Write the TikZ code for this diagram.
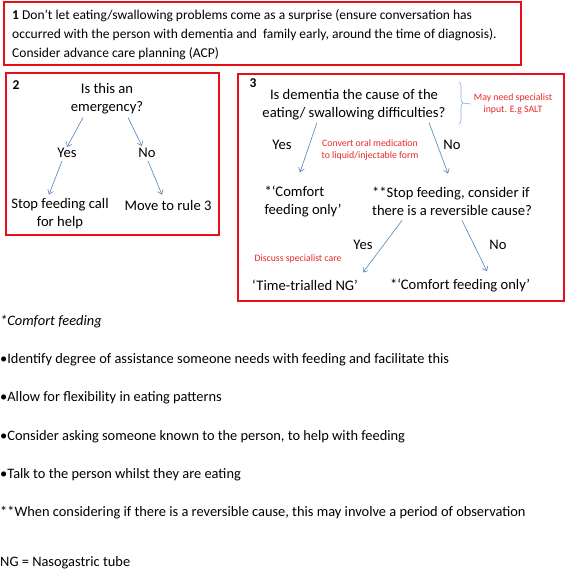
\documentclass[tikz,border=0pt]{standalone}
\usepackage{fontspec}
\setmainfont{Carlito}
\usetikzlibrary{arrows.meta, positioning, decorations.pathreplacing}
\definecolor{framered}{RGB}{232,16,24}
\definecolor{notered}{RGB}{232,40,40}
\definecolor{flowblue}{RGB}{79,129,189}
\definecolor{braceblue}{RGB}{140,170,210}

\begin{document}
\begin{tikzpicture}[
    x=1pt, y=-1pt,
    frame/.style={
        draw=framered,
        line width=2pt
    },
    txt/.style={
        inner sep=0pt,
        align=center,
        font=\fontsize{14.6}{18}\selectfont
    },
    body/.style={
        inner sep=0pt,
        anchor=west,
        font=\fontsize{14.4}{18}\selectfont
    },
    note/.style={
        inner sep=0pt,
        align=center,
        text=notered,
        font=\fontsize{9.8}{11.5}\selectfont
    },
    num/.style={
        inner sep=0pt,
        font=\fontsize{13.5}{15}\selectfont\bfseries
    },
    flow/.style={
        draw=flowblue,
        line width=0.6pt,
        -{Straight Barb[length=4pt, width=6pt]}
    }
]
\useasboundingbox (0,0) rectangle (567,571);

% Rule 1
\draw[frame] (4,2) rectangle (521,65);
\node[txt, anchor=north west, align=left, font=\fontsize{13.5}{19}\selectfont] (r1) at (12,9) {%
\textbf{1} Don’t let eating/swallowing problems come as a surprise (ensure conversation has\\
occurred with the person with dementia and\ \ family early, around the time of diagnosis).\\
Consider advance care planning (ACP)};

% Rule 2
\draw[frame] (6,73) rectangle (219,235);
\node[num] (n2) at (16,85) {2};
\node[txt] (q2) at (107,99) {Is this an\\emergency?};
\node[txt] (yes2) at (67,153) {Yes};
\node[txt] (no2) at (147,153) {No};
\node[txt] (stop2) at (60,214) {Stop feeding call\\for help};
\node[txt] (move2) at (168,205) {Move to rule 3};

\draw[flow] ([xshift=-24pt, yshift=-3pt]q2.south) -- ([yshift=1pt]yes2.north);
\draw[flow] ([xshift=21pt, yshift=-3pt]q2.south) -- ([xshift=-5pt, yshift=2pt]no2.north);
\draw[flow] ([xshift=-5pt, yshift=-3pt]yes2.south) -- ([xshift=-11pt, yshift=4pt]stop2.north);
\draw[flow] ([xshift=1pt, yshift=-3pt]no2.south) -- ([xshift=-6pt, yshift=5pt]move2.north);

% Rule 3
\draw[frame] (238,74) rectangle (564,301);
\node[num] (n3) at (253,83) {3};
\node[txt] (q3) at (354,105) {Is dementia the cause of the\\eating/ swallowing difficulties?};
\draw[draw=braceblue, line width=0.6pt, decorate, decoration={brace, amplitude=4pt}]
    (459,82) -- (459,124) coordinate[midway, xshift=4pt] (tip);
\node[note] (spec) at (513,104) {May need specialist\\input. E.g SALT};
\draw[draw=braceblue, line width=0.6pt] (tip) -- ([xshift=-3pt]spec.west);

\node[txt] (yes3) at (282,145) {Yes};
\node[txt] (no3) at (452,145) {No};
\node[note] (conv) at (370,150) {Convert oral medication\\to liquid/injectable form};
\node[txt, align=left] (comf3) at (303,201) {*‘Comfort\\feeding only’};
\node[txt, align=left] (stop3) at (452,201) {**Stop feeding, consider if\\there is a reversible cause?};

\draw[flow] ([xshift=-37pt, yshift=-2pt]q3.south) -- ([xshift=-3pt, yshift=13pt]comf3.north);
\draw[flow] ([xshift=75pt, yshift=-2pt]q3.south) -- ([xshift=-4pt, yshift=13pt]stop3.north);

\node[txt] (yes4) at (363,245) {Yes};
\node[txt] (no4) at (498,245) {No};
\node[note] (disc) at (298,259) {Discuss specialist care};
\node[txt] (ng) at (305,285) {‘Time-trialled NG’};
\node[txt] (comf4) at (460,285) {*‘Comfort feeding only’};

\draw[flow] ([xshift=-50pt, yshift=-5pt]stop3.south) -- ([xshift=58pt, yshift=7pt]ng.north);
\draw[flow] ([xshift=10pt, yshift=-5pt]stop3.south) -- ([xshift=27pt, yshift=7pt]comf4.north);

% Notes
\node[body] (cf) at (0,322) {\itshape *Comfort feeding};
\node[body] (b1) at (0,360) {•Identify degree of assistance someone needs with feeding and facilitate this};
\node[body] (b2) at (0,398) {•Allow for flexibility in eating patterns};
\node[body] (b3) at (0,437) {•Consider asking someone known to the person, to help with feeding};
\node[body] (b4) at (0,475) {•Talk to the person whilst they are eating};
\node[body] (obs) at (0,513) {**When considering if there is a reversible cause, this may involve a period of observation};
\node[body] (ng2) at (0,563) {NG = Nasogastric tube};

\end{tikzpicture}
\end{document}
